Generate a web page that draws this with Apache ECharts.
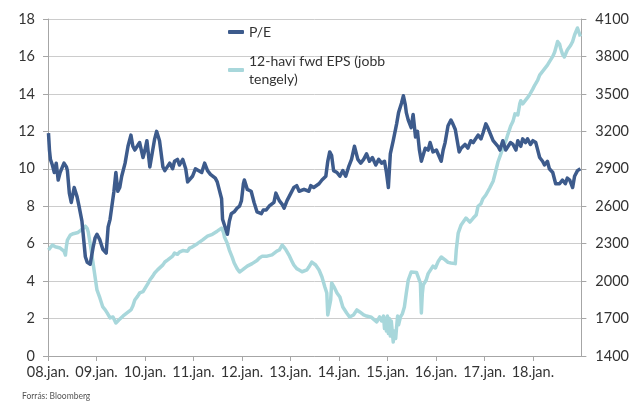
<!DOCTYPE html>
<html>
<head>
<meta charset="utf-8">
<script src="https://cdn.jsdelivr.net/npm/echarts@6.0.0/dist/echarts.min.js"></script>
<style>
  html, body { margin: 0; padding: 0; background: #fff; }
  #chart { width: 632px; height: 401px; }
</style>
</head>
<body>
<div id="chart"></div>
<script>
// P/E (bal tengely), tört évben
const peYears = [
  2008.01, 2008.03, 2008.05, 2008.09, 2008.13, 2008.17, 2008.21, 2008.25, 2008.29, 2008.33,
  2008.38, 2008.40, 2008.44, 2008.48, 2008.54, 2008.58, 2008.60, 2008.64, 2008.70, 2008.77,
  2008.81, 2008.87, 2008.93, 2008.97, 2009.01, 2009.07, 2009.13, 2009.20, 2009.24, 2009.28,
  2009.32, 2009.36, 2009.40, 2009.44, 2009.48, 2009.52, 2009.59, 2009.65, 2009.71, 2009.75,
  2009.79, 2009.83, 2009.89, 2009.96, 2010.00, 2010.04, 2010.10, 2010.16, 2010.20, 2010.24,
  2010.30, 2010.37, 2010.41, 2010.45, 2010.51, 2010.57, 2010.61, 2010.67, 2010.71, 2010.78,
  2010.84, 2010.88, 2010.92, 2010.98, 2011.04, 2011.08, 2011.17, 2011.23, 2011.29, 2011.35,
  2011.39, 2011.45, 2011.49, 2011.53, 2011.58, 2011.60, 2011.64, 2011.70, 2011.74, 2011.78,
  2011.84, 2011.90, 2011.95, 2011.99, 2012.03, 2012.05, 2012.11, 2012.15, 2012.19, 2012.25,
  2012.31, 2012.40, 2012.44, 2012.50, 2012.56, 2012.60, 2012.66, 2012.70, 2012.77, 2012.83,
  2012.87, 2012.93, 2012.97, 2013.01, 2013.07, 2013.13, 2013.18, 2013.22, 2013.28, 2013.32,
  2013.38, 2013.42, 2013.48, 2013.52, 2013.59, 2013.65, 2013.69, 2013.73, 2013.77, 2013.81,
  2013.85, 2013.89, 2013.96, 2014.02, 2014.08, 2014.14, 2014.20, 2014.26, 2014.32, 2014.39,
  2014.45, 2014.51, 2014.57, 2014.63, 2014.69, 2014.76, 2014.82, 2014.88, 2014.94, 2014.98,
  2015.02, 2015.06, 2015.12, 2015.19, 2015.23, 2015.29, 2015.33, 2015.37, 2015.39, 2015.43,
  2015.49, 2015.53, 2015.58, 2015.62, 2015.66, 2015.70, 2015.74, 2015.78, 2015.84, 2015.88,
  2015.94, 2016.01, 2016.05, 2016.11, 2016.15, 2016.19, 2016.25, 2016.31, 2016.35, 2016.40,
  2016.44, 2016.48, 2016.52, 2016.56, 2016.60, 2016.66, 2016.72, 2016.77, 2016.81, 2016.87,
  2016.93, 2016.97, 2017.03, 2017.07, 2017.11, 2017.18, 2017.22, 2017.28, 2017.32, 2017.38,
  2017.44, 2017.48, 2017.54, 2017.59, 2017.65, 2017.69, 2017.75, 2017.79, 2017.85, 2017.89,
  2017.95, 2018.00, 2018.06, 2018.10, 2018.14, 2018.20, 2018.24, 2018.30, 2018.34, 2018.41,
  2018.47, 2018.51, 2018.55, 2018.61, 2018.67, 2018.71, 2018.76, 2018.82, 2018.86, 2018.92,
  2018.98
];
const peValues = [
  11.9, 11.0, 10.5, 10.2, 9.8, 10.3, 9.4, 9.8, 9.8, 10.3,
  10.1, 9.9, 8.7, 8.2, 9.0, 8.9, 8.5, 8.0, 7.2, 5.3,
  5.0, 4.9, 5.8, 6.3, 6.5, 6.2, 5.7, 5.5, 6.9, 7.3,
  7.4, 8.8, 9.8, 8.8, 9.0, 9.6, 10.3, 11.2, 11.8, 11.2,
  11.0, 10.9, 11.4, 10.6, 11.0, 11.5, 10.1, 11.0, 11.6, 12.0,
  11.5, 10.1, 9.9, 9.8, 10.3, 10.0, 10.4, 10.5, 10.2, 10.5,
  10.0, 9.3, 9.4, 9.6, 10.0, 10.1, 9.8, 10.3, 9.9, 9.7,
  9.6, 9.5, 9.3, 8.9, 8.4, 7.3, 7.4, 6.5, 7.2, 7.6,
  7.7, 7.9, 8.0, 8.3, 9.2, 9.4, 8.9, 9.0, 8.8, 8.2,
  7.7, 7.6, 7.8, 7.8, 8.0, 7.9, 8.2, 8.7, 8.3, 8.1,
  7.9, 8.3, 8.5, 8.7, 9.0, 9.1, 8.8, 8.7, 8.9, 9.0,
  8.8, 9.1, 9.0, 9.0, 9.2, 9.4, 9.5, 9.6, 10.4, 10.9,
  10.7, 9.9, 9.8, 9.6, 9.9, 9.6, 10.1, 10.5, 11.2, 10.5,
  10.3, 10.5, 10.8, 10.4, 10.6, 10.2, 10.5, 10.3, 10.4, 9.8,
  9.0, 10.8, 11.5, 12.4, 13.0, 13.5, 13.9, 13.4, 13.0, 12.6,
  12.2, 12.9, 11.7, 12.0, 11.0, 10.4, 10.5, 11.1, 11.0, 11.4,
  10.9, 11.0, 11.1, 10.4, 11.0, 11.4, 12.3, 12.6, 12.4, 12.1,
  11.5, 10.9, 11.1, 11.0, 11.3, 11.1, 11.5, 11.4, 11.4, 11.8,
  11.6, 11.9, 12.4, 12.2, 12.1, 11.5, 11.4, 11.2, 11.0, 11.5,
  11.0, 11.1, 11.4, 11.3, 11.0, 11.5, 11.2, 11.6, 11.4, 11.6,
  11.3, 11.5, 11.4, 11.3, 10.6, 10.4, 10.2, 10.4, 10.0, 9.8,
  9.2, 9.1, 9.2, 9.4, 9.2, 9.5, 9.4, 9.0, 9.6, 9.9,
  10.0
];

// 12-havi fwd EPS (jobb tengely)
const epsYears = [
  2008.01, 2008.05, 2008.09, 2008.15, 2008.19, 2008.25, 2008.29, 2008.33, 2008.36, 2008.38,
  2008.40, 2008.46, 2008.52, 2008.56, 2008.62, 2008.66, 2008.72, 2008.77, 2008.81, 2008.83,
  2008.87, 2008.89, 2008.95, 2009.01, 2009.07, 2009.13, 2009.18, 2009.22, 2009.28, 2009.34,
  2009.40, 2009.46, 2009.50, 2009.55, 2009.63, 2009.71, 2009.75, 2009.79, 2009.85, 2009.89,
  2009.96, 2010.00, 2010.06, 2010.10, 2010.16, 2010.20, 2010.26, 2010.30, 2010.37, 2010.41,
  2010.47, 2010.51, 2010.57, 2010.61, 2010.67, 2010.71, 2010.78, 2010.82, 2010.88, 2010.92,
  2010.98, 2011.02, 2011.08, 2011.12, 2011.19, 2011.23, 2011.29, 2011.33, 2011.39, 2011.43,
  2011.49, 2011.53, 2011.58, 2011.62, 2011.64, 2011.70, 2011.74, 2011.80, 2011.84, 2011.90,
  2011.95, 2012.01, 2012.05, 2012.11, 2012.15, 2012.21, 2012.25, 2012.31, 2012.36, 2012.42,
  2012.46, 2012.52, 2012.56, 2012.62, 2012.66, 2012.72, 2012.77, 2012.83, 2012.87, 2012.91,
  2012.97, 2013.03, 2013.07, 2013.13, 2013.18, 2013.24, 2013.28, 2013.34, 2013.38, 2013.44,
  2013.48, 2013.52, 2013.59, 2013.65, 2013.71, 2013.75, 2013.77, 2013.81, 2013.83, 2013.85,
  2013.91, 2013.96, 2014.02, 2014.08, 2014.16, 2014.22, 2014.26, 2014.30, 2014.37, 2014.43,
  2014.51, 2014.57, 2014.61, 2014.67, 2014.71, 2014.78, 2014.84, 2014.88, 2014.92, 2014.94,
  2014.96, 2014.98, 2015.00, 2015.02, 2015.04, 2015.06, 2015.08, 2015.12, 2015.14, 2015.17,
  2015.19, 2015.21, 2015.23, 2015.27, 2015.31, 2015.35, 2015.39, 2015.43, 2015.49, 2015.53,
  2015.60, 2015.64, 2015.68, 2015.70, 2015.72, 2015.74, 2015.80, 2015.84, 2015.88, 2015.94,
  2015.99, 2016.05, 2016.11, 2016.15, 2016.19, 2016.25, 2016.31, 2016.35, 2016.40, 2016.42,
  2016.46, 2016.52, 2016.56, 2016.62, 2016.66, 2016.70, 2016.77, 2016.83, 2016.87, 2016.93,
  2016.97, 2017.03, 2017.07, 2017.11, 2017.18, 2017.22, 2017.28, 2017.34, 2017.38, 2017.44,
  2017.48, 2017.54, 2017.59, 2017.63, 2017.69, 2017.73, 2017.75, 2017.79, 2017.83, 2017.89,
  2017.93, 2018.00, 2018.04, 2018.10, 2018.14, 2018.20, 2018.24, 2018.30, 2018.34, 2018.41,
  2018.45, 2018.51, 2018.55, 2018.57, 2018.61, 2018.65, 2018.71, 2018.78, 2018.82, 2018.86,
  2018.92, 2018.96, 2018.98
];
const epsValues = [
  2249, 2270, 2289, 2275, 2273, 2265, 2257, 2240, 2209, 2280,
  2329, 2369, 2380, 2385, 2390, 2393, 2420, 2440, 2420, 2393,
  2300, 2249, 2089, 1929, 1865, 1793, 1770, 1745, 1705, 1713,
  1665, 1689, 1705, 1721, 1745, 1769, 1800, 1849, 1880, 1905,
  1915, 1929, 1980, 2009, 2040, 2065, 2090, 2105, 2130, 2153,
  2170, 2185, 2200, 2225, 2215, 2233, 2245, 2249, 2240, 2265,
  2275, 2289, 2300, 2313, 2330, 2345, 2360, 2369, 2375, 2385,
  2400, 2409, 2425, 2390, 2353, 2300, 2249, 2190, 2145, 2100,
  2073, 2090, 2105, 2120, 2129, 2140, 2145, 2165, 2185, 2200,
  2209, 2200, 2193, 2210, 2225, 2240, 2249, 2289, 2270, 2249,
  2209, 2160, 2129, 2100, 2089, 2075, 2065, 2090, 2113, 2153,
  2140, 2129, 2089, 2033, 1953, 1905, 1729, 1713, 1850, 1985,
  1945, 1905, 1873, 1793, 1745, 1713, 1720, 1729, 1769, 1753,
  1729, 1720, 1713, 1710, 1705, 1673, 1713, 1680, 1720, 1620,
  1700, 1600, 1720, 1580, 1700, 1560, 1680, 1512, 1600, 1540,
  1633, 1720, 1650, 1713, 1740, 1793, 1905, 2009, 2073, 2060,
  2070, 2065, 1985, 1745, 1900, 1970, 2009, 2060, 2070, 2120,
  2105, 2160, 2193, 2180, 2170, 2150, 2145, 2145, 2140, 2250,
  2385, 2450, 2465, 2505, 2490, 2473, 2505, 2529, 2600, 2620,
  2660, 2690, 2700, 2746, 2800, 2860, 2954, 3020, 3066, 3120,
  3171, 3240, 3280, 3340, 3331, 3420, 3445, 3420, 3420, 3470,
  3491, 3540, 3571, 3610, 3651, 3680, 3692, 3730, 3756, 3800,
  3836, 3920, 3900, 3868, 3820, 3796, 3852, 3890, 3920, 3972,
  4028, 4040, 3960
];

const peName = 'P/E';
const epsName = '12-havi fwd EPS (jobb tengely)';

const fontFamily = 'Lato, "Liberation Sans", sans-serif';
const textColor = '#333';
const axisColor = '#a6a6a6';

const chart = echarts.init(document.getElementById('chart'), null, { renderer: 'canvas' });

const option = {
  animation: false,
  textStyle: { fontFamily: fontFamily },
  grid: { left: 48, right: 48, top: 19, bottom: 45, containLabel: false },
  legend: {
    orient: 'vertical',
    left: 228,
    top: 23,
    padding: 0,
    itemGap: 2,
    itemWidth: 16,
    itemHeight: 4,
    icon: 'roundRect',
    selectedMode: false,
    textStyle: { color: textColor, fontSize: 14, lineHeight: 18, fontFamily: fontFamily },
    formatter: function (name) {
      return name === epsName ? '12-havi fwd EPS (jobb\ntengely)' : name;
    },
    data: [
      { name: peName },
      { name: epsName, textStyle: { padding: [18, 0, 0, 0] } }
    ]
  },
  xAxis: {
    type: 'value',
    min: 2008,
    max: 2019,
    interval: 1,
    axisLine: { show: true, lineStyle: { color: axisColor } },
    axisTick: { show: true, length: 5, lineStyle: { color: axisColor } },
    splitLine: { show: false },
    axisLabel: {
      color: textColor,
      fontSize: 14.5,
      margin: 9,
      showMaxLabel: false,
      formatter: function (v) {
        if (v >= 2019) return '';
        return String(v).slice(2) + '.jan.';
      }
    }
  },
  yAxis: [
    {
      type: 'value',
      min: 0,
      max: 18,
      interval: 2,
      axisLine: { show: true, lineStyle: { color: axisColor } },
      axisTick: { show: true, length: 5, lineStyle: { color: axisColor } },
      splitLine: { show: true, lineStyle: { color: '#cccccc' } },
      axisLabel: { color: textColor, fontSize: 14.5, margin: 13 }
    },
    {
      type: 'value',
      min: 1400,
      max: 4100,
      interval: 300,
      position: 'right',
      axisLine: { show: true, lineStyle: { color: axisColor } },
      axisTick: { show: true, length: 5, lineStyle: { color: axisColor } },
      splitLine: { show: false },
      axisLabel: {
        color: textColor,
        fontSize: 14.5,
        margin: 14,
        formatter: function (v) { return String(v); }
      }
    }
  ],
  graphic: [
    {
      type: 'text',
      left: 22,
      top: 392,
      style: { text: 'Forrás: Bloomberg', fill: '#555', fontSize: 8.5, fontFamily: fontFamily }
    }
  ],
  series: [
    {
      name: epsName,
      type: 'line',
      yAxisIndex: 1,
      showSymbol: false,
      z: 2,
      lineStyle: { width: 3.5, color: '#a8d7db', join: 'round' },
      itemStyle: { color: '#a8d7db' },
      data: epsYears.map((y, i) => [y, epsValues[i]])
    },
    {
      name: peName,
      type: 'line',
      yAxisIndex: 0,
      showSymbol: false,
      z: 3,
      lineStyle: { width: 3.5, color: '#3d5b8c', join: 'round' },
      itemStyle: { color: '#3d5b8c' },
      data: peYears.map((y, i) => [y, peValues[i]])
    }
  ]
};

chart.setOption(option);
</script>
</body>
</html>
